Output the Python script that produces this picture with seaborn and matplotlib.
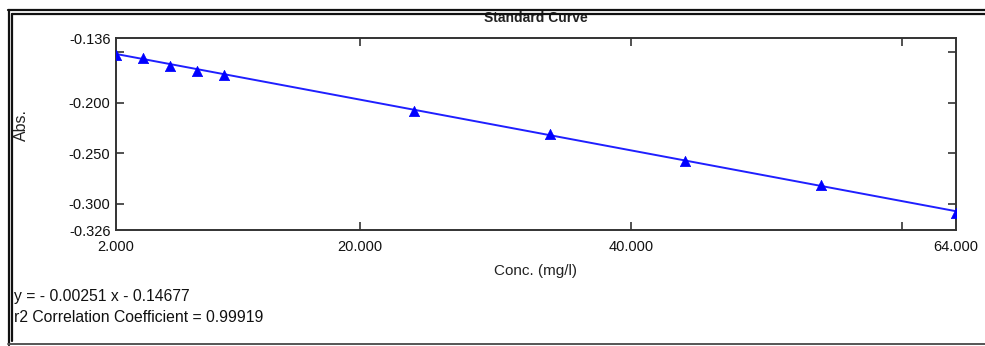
import matplotlib
matplotlib.use("Agg")
import matplotlib.pyplot as plt
from matplotlib.lines import Line2D
import numpy as np
import pandas as pd
import seaborn as sns

# Calibration standards
conc = [2, 4, 6, 8, 10, 24, 34, 44, 54, 64]
absorb = [-0.1528, -0.1560, -0.1637, -0.1685, -0.1730, -0.2083, -0.2310, -0.2577, -0.2815, -0.3095]

# Linear fit reported for the curve
slope = -0.00251
intercept = -0.14677
r2 = 0.99919

x_ticks = [2, 20, 40, 60, 64]
x_labels = ["2.000", "20.000", "40.000", "", "64.000"]
y_ticks = [-0.136, -0.15, -0.2, -0.25, -0.3, -0.326]
y_labels = ["-0.136", "", "-0.200", "-0.250", "-0.300", "-0.326"]

sns.set_theme(style="ticks")
plt.rcParams["font.family"] = ["Liberation Sans", "DejaVu Sans"]

W, H = 985, 346
fig = plt.figure(figsize=(W / 100, H / 100), dpi=100)
fig.patch.set_facecolor("white")
ax = fig.add_axes([116 / W, 1 - 230 / H, 840 / W, 192 / H])
ax.set_facecolor("white")

pts = pd.DataFrame({"conc": conc, "abs": absorb})
fit_x = np.array([min(conc), max(conc)], dtype=float)
fit = pd.DataFrame({"conc": fit_x, "abs": slope * fit_x + intercept})

sns.lineplot(data=fit, x="conc", y="abs", ax=ax, color="#1f1fff", linewidth=1.4, zorder=2)
sns.scatterplot(data=pts, x="conc", y="abs", ax=ax, marker="^", s=55, color="#0000ff",
                edgecolor="#0000ff", linewidth=0.5, zorder=3)

ax.set_xlim(2, 64)
ax.set_ylim(-0.326, -0.136)
ax.set_xticks(x_ticks)
ax.set_xticklabels(x_labels)
ax.set_yticks(y_ticks)
ax.set_yticklabels(y_labels)
ax.tick_params(axis="both", direction="in", length=6, width=1.2, color="#333333",
               labelsize=10.5, labelcolor="#111111", top=True, right=True)
ax.tick_params(axis="x", pad=7)
ax.tick_params(axis="y", pad=4)
for i in (0, 4):
    t = ax.xaxis.get_major_ticks()[i]
    t.tick1line.set_visible(False)
    t.tick2line.set_visible(False)
for i in (0, 5):
    t = ax.yaxis.get_major_ticks()[i]
    t.tick1line.set_visible(False)
    t.tick2line.set_visible(False)
for sp in ax.spines.values():
    sp.set_visible(True)
    sp.set_color("#333333")
    sp.set_linewidth(1.4)
ax.set_xlabel("")
ax.set_ylabel("")

# Titles and axis captions
fig.text(536 / W, 1 - 18 / H, "Standard Curve", ha="center", va="center",
         fontsize=10, color="#222222", fontweight="bold")
fig.text(536 / W, 1 - 271 / H, "Conc. (mg/l)", ha="center", va="center",
         fontsize=11, color="#222222")
fig.text(21 / W, 1 - 125 / H, "Abs.", ha="center", va="center", rotation=90,
         fontsize=11.5, color="#222222")

# Fit summary
fig.text(14 / W, 1 - 296 / H, f"y = - {abs(slope):.5f} x - {abs(intercept):.5f}",
         ha="left", va="center", fontsize=11.3, color="#111111")
fig.text(14 / W, 1 - 318 / H, f"r2 Correlation Coefficient = {r2:.5f}",
         ha="left", va="center", fontsize=11.3, color="#111111")

# Report frame
def hline(y, x0, x1, lw=1.6, c="#111111"):
    fig.add_artist(Line2D([x0 / W, x1 / W], [1 - y / H, 1 - y / H], color=c, lw=lw, zorder=10))

def vline(x, y0, y1, lw=1.6, c="#111111"):
    fig.add_artist(Line2D([x / W, x / W], [1 - y0 / H, 1 - y1 / H], color=c, lw=lw, zorder=10))

hline(10, 8, W)
hline(13.5, 11.5, W)
vline(8.5, 10, 345)
vline(12, 13.5, 341)
hline(344, 8, W, lw=1.4, c="#555555")

fig.savefig("out.png", dpi=100, facecolor="white")
